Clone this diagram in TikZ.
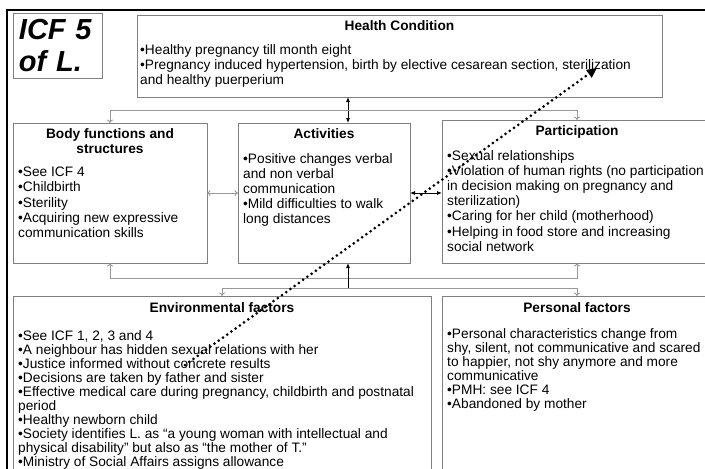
\documentclass[tikz,border=0pt]{standalone}
\usepackage{fontspec}
\setmainfont{Liberation Sans}
\usetikzlibrary{arrows.meta,positioning}
\definecolor{boxline}{HTML}{7F7F7F}
\definecolor{conn}{HTML}{999999}
\tikzset{box/.style={draw=boxline,line width=0.9pt,inner sep=0pt,outer sep=0pt},head/.style={font=\bfseries\fontsize{13.7}{15}\selectfont,align=center,inner sep=0pt},txt/.style={font=\fontsize{13.7}{15.2}\selectfont,align=left,inner sep=0pt},txtt/.style={font=\fontsize{13.7}{14}\selectfont,align=left,inner sep=0pt},gry/.style={draw=conn,line width=0.9pt,>={To[length=3.5pt,width=6pt]}},blk/.style={line width=0.8pt,>={Latex[length=5pt,width=4pt]}},dots/.style={line width=3pt,dash pattern=on 0pt off 5.2pt,line cap=round,-{Triangle[length=10pt,width=9pt]}}}

\begin{document}
\begin{tikzpicture}[x=1pt,y=-1pt]
\useasboundingbox (0,0) rectangle (705,469);
\clip (0,0) rectangle (705,469);
\draw[line width=1.1pt] (7,10) rectangle (760,520);
\node[box,minimum width=89pt,minimum height=65pt,text width=77pt,align=left,font=\bfseries\itshape\fontsize{29}{32}\selectfont] (icf) at (57.5,45.5) {ICF 5\\of L.};
\node[box,minimum width=525pt,minimum height=82pt] (hc) at (399.5,56) {};
\node[box,minimum width=194pt,minimum height=140pt] (body) at (110,193) {};
\node[box,minimum width=172pt,minimum height=140pt] (act) at (324,193) {};
\node[box,minimum width=270pt,minimum height=143pt] (part) at (577,191.5) {};
\node[box,minimum width=418pt,minimum height=194pt] (env) at (222,393) {};
\node[box,minimum width=270pt,minimum height=194pt] (pers) at (577,393) {};
\node[head,below=5pt of hc.north] (hchead) {Health Condition};
\node[txt,below right=29pt and 3pt of hc.north west] (hctext) {•Healthy pregnancy till month eight\\•Pregnancy induced hypertension, birth by elective cesarean section, sterilization\\and healthy puerperium};
\node[head,below=5pt of body.north] (bodyhead) {Body functions and\\structures};
\node[txt,below right=44pt and 5pt of body.north west] (bodytext) {•See ICF 4\\•Childbirth\\•Sterility\\•Acquiring new expressive\\communication skills};
\node[head,below=5pt of act.north] (acthead) {Activities};
\node[txt,below right=30pt and 5pt of act.north west] (acttext) {•Positive changes verbal\\and non verbal\\communication\\•Mild difficulties to walk\\long distances};
\node[head,below=5pt of part.north] (parthead) {Participation};
\node[txt,below right=30pt and 5pt of part.north west] (parttext) {•Sexual relationships\\•Violation of human rights (no participation\\in decision making on pregnancy and\\sterilization)\\•Caring for her child (motherhood)\\•Helping in food store and increasing\\social network};
\node[head,below=6pt of env.north] (envhead) {Environmental factors};
\node[txtt,below right=34pt and 5pt of env.north west] (envtext) {•See ICF 1, 2, 3 and 4\\•A neighbour has hidden sexual relations with her\\•Justice informed without concrete results\\•Decisions are taken by father and sister\\•Effective medical care during pregnancy, childbirth and postnatal\\period\\•Healthy newborn child\\•Society identifies L. as “a young woman with intellectual and\\physical disability” but also as “the mother of T.”\\•Ministry of Social Affairs assigns allowance};
\node[head,below=6pt of pers.north] (pershead) {Personal factors};
\node[txtt,below right=32pt and 5pt of pers.north west] (perstext) {•Personal characteristics change from\\shy, silent, not communicative and scared\\to happier, not shy anymore and more\\communicative\\•PMH: see ICF 4\\•Abandoned by mother};
% links
\draw[blk,<->] ([xshift=24pt]act.north |- hc.south) -- ([xshift=24pt]act.north);
\draw[gry,<->] (body.north) -- ++(0,-13) -| (part.north);
\draw[gry,<->] (body.east) -- (act.west);
\draw[blk,<->] (act.east) -- (act.east -| part.west);
\draw[gry,<->] (body.south) -- ++(0,15) -| (part.south);
\draw[gry,<->] (env.north) -- ++(0,-8) -| (pers.north);
\coordinate (jn) at ([xshift=24pt,yshift=8pt]act.south |- env.north);
\draw[blk,->] (jn) -- (jn |- act.south);
\coordinate (dA) at (185,365);
\coordinate (dB) at (597,68);
\draw[dots] (dA) -- (dB);
\end{tikzpicture}
\end{document}
